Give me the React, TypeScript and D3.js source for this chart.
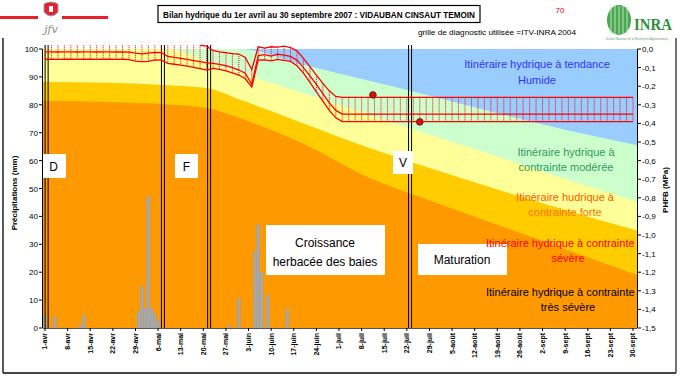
import React from "react";
import * as d3 from "d3";

// ---------- DATA ----------
const tickDays = [0, 7, 14, 21, 28, 35, 42, 49, 56, 63, 70, 77, 84, 91, 98, 105, 112, 119, 126, 133, 140, 147, 154, 161, 168, 175, 182];
const tickLabels = ["1-avr", "8-avr", "15-avr", "22-avr", "29-avr", "6-mai", "13-mai", "20-mai", "27-mai", "3-juin", "10-juin", "17-juin", "24-juin", "1-juil", "8-juil", "15-juil", "22-juil", "29-juil", "5-août", "12-août", "19-août", "26-août", "2-sept", "9-sept", "16-sept", "23-sept", "30-sept"];
const mmTicks = [0, 10, 20, 30, 40, 50, 60, 70, 80, 90, 100];
const psiTicks = [0, -0.1, -0.2, -0.3, -0.4, -0.5, -0.6, -0.7, -0.8, -0.9, -1.0, -1.1, -1.2, -1.3, -1.4, -1.5];

// background threshold curves (MPa) by day index since 1 April
const bandDays = [-1, 20, 38, 50, 60, 80, 100, 120, 140, 160, 184];
const boundHumide = [0, 0, 0, 0, 0, -0.085, -0.17, -0.255, -0.345, -0.43, -0.52];
const boundModeree = [0, 0, 0, -0.068, -0.125, -0.238, -0.352, -0.465, -0.578, -0.692, -0.825];
const boundForte = [-0.177, -0.182, -0.195, -0.21, -0.27, -0.4, -0.53, -0.645, -0.755, -0.86, -0.98];
const boundSevere = [-0.28, -0.285, -0.298, -0.317, -0.37, -0.51, -0.69, -0.82, -0.945, -1.07, -1.22];
const bandColors = ["#FF9900", "#FFCC00", "#FFFF99", "#CCFFCC", "#99CCFF"];

// precipitation (mm)
const precipDays = [0, 3, 11, 12, 29, 30, 31, 32, 33, 34, 35, 57, 60, 65, 66, 67, 69, 75];
const precipMm = [4.6, 4, 0.8, 4.6, 6, 14.8, 7, 47, 7, 5, 2.6, 1, 10.7, 27.5, 37, 20, 12, 6.8];

// simulated water potential envelope (MPa)
const hydroDays = [0, 2, 4, 6, 8, 10, 12, 14, 16, 18, 20, 22, 24, 26, 28, 30, 32, 34, 36, 38, 40, 42, 44, 46, 48, 50, 52, 54, 56, 58, 60, 62, 64, 66, 68, 70, 72, 74, 76, 78, 80, 82, 84, 86, 88, 90, 92,
  94, 96, 98, 100, 102, 104, 106, 108, 110, 112, 114, 116, 118, 120, 122, 124, 126, 128, 130, 132, 134, 136, 138, 140, 142, 144, 146, 148, 150, 152, 154, 156, 158, 160, 162, 164, 166, 168, 170, 172, 174, 176, 178, 180, 182];
const psiHigh = [0.02, 0.02, 0.02, 0.02, 0.02, 0.02, 0.02, 0.02, 0.02, 0.02, 0.02, 0.02, 0.02, 0.02, 0.02, 0.02, 0.02, 0.02, 0.02, 0.02, 0.02, 0.02, 0.02, 0.02,
  0.02, 0.015,
  -0.008, -0.015, -0.02, -0.025, -0.027, -0.045, -0.11,
  0.012, 0.005, 0.012, 0.01, 0.015, 0.008, -0.01,
  -0.05, -0.095, -0.14, -0.185, -0.225, -0.255, -0.26,
  -0.26, -0.26, -0.26, -0.26, -0.26, -0.26, -0.26, -0.26, -0.26, -0.26, -0.26, -0.26, -0.26, -0.26, -0.26, -0.26, -0.26, -0.26, -0.26, -0.26, -0.26, -0.26, -0.26, -0.26, -0.26, -0.26, -0.26,
  -0.26, -0.26, -0.26, -0.26, -0.26, -0.26, -0.26, -0.26, -0.26, -0.26, -0.26, -0.26, -0.26, -0.26, -0.26, -0.26, -0.26, -0.26, -0.26, -0.26, -0.26, -0.26];
const psiMid = [-0.015, -0.015, -0.016, -0.015, -0.015, -0.016, -0.015, -0.015, -0.016, -0.015, -0.015, -0.016, -0.015,
  -0.017, -0.022, -0.026, -0.022, -0.018, -0.02,
  -0.04, -0.045, -0.05, -0.056, -0.062, -0.068, -0.075,
  -0.077, -0.083, -0.09, -0.1, -0.113, -0.13, -0.19,
  -0.035, -0.03, -0.038, -0.028, -0.033, -0.04, -0.06,
  -0.1, -0.145, -0.19, -0.24, -0.29, -0.33, -0.35,
  -0.35, -0.35, -0.35, -0.35, -0.35, -0.35, -0.35, -0.35, -0.35, -0.35, -0.35, -0.35, -0.35, -0.35, -0.35, -0.35, -0.35, -0.35, -0.35, -0.35, -0.35, -0.35, -0.35,
  -0.35, -0.35, -0.35, -0.35, -0.35, -0.35, -0.35, -0.35, -0.35, -0.35, -0.35, -0.35, -0.35, -0.35, -0.35, -0.35, -0.35, -0.35, -0.35, -0.35, -0.35, -0.35];
const psiLow = [-0.055, -0.055, -0.056, -0.055, -0.055, -0.056, -0.055, -0.055, -0.056, -0.055, -0.055, -0.056, -0.055,
  -0.057, -0.065, -0.068, -0.066, -0.058, -0.06,
  -0.077, -0.082, -0.087, -0.092, -0.099, -0.106, -0.113,
  -0.104, -0.11, -0.118, -0.128, -0.14, -0.16, -0.205,
  -0.06, -0.058, -0.064, -0.056, -0.061, -0.067, -0.09,
  -0.13, -0.18, -0.23, -0.28, -0.33, -0.37, -0.39,
  -0.39, -0.39, -0.39, -0.39, -0.39, -0.39, -0.39, -0.39, -0.39, -0.39, -0.39, -0.39, -0.39, -0.39, -0.39, -0.39, -0.39, -0.39, -0.39, -0.39, -0.39, -0.39, -0.39,
  -0.39, -0.39, -0.39, -0.39, -0.39, -0.39, -0.39, -0.39, -0.39, -0.39, -0.39, -0.39, -0.39, -0.39, -0.39, -0.39, -0.39, -0.39, -0.39, -0.39, -0.39, -0.39];
const highLineFromDay = 48;

// measured points
const dotDays = [101.5, 116];
const dotPsi = [-0.247, -0.392];

// phenological stages
const phenoDays = [0.5, 36.5, 50.8, 113];

const stageLabels = ["D", "F", "V"];
const title = "Bilan hydrique du 1er avril au 30 septembre 2007 : VIDAUBAN CINSAUT TEMOIN";
const subtitle = "grille de diagnostic utilisée =ITV-INRA 2004";

export default function App() {
  const L = 43, R = 637, T = 49, B = 328;
  const x = d3.scaleLinear().domain([0, 182]).range([45, 633]);
  const yMm = d3.scaleLinear().domain([0, 100]).range([B, T]);
  const yPsi = d3.scaleLinear().domain([0, -1.5]).range([T, B]);
  const font = "'Liberation Sans', Arial, sans-serif";
  const barW = x(1) - x(0);

  const bandPath = (bound: number[]) =>
    d3.area<number>()
      .x((d) => x(d))
      .y0(T)
      .y1((_, i) => yPsi(bound[i]))
      .curve(d3.curveMonotoneX)(bandDays) || "";

  const linePath = (vals: number[], from = -Infinity) =>
    d3.line<number>()
      .defined((d) => d >= from)
      .x((d) => x(d))
      .y((_, i) => yPsi(vals[i]))(hydroDays) || "";

  const fmtPsi = (v: number) => (v === 0 ? "0,0" : d3.format(".1f")(v).replace(".", ",").replace("−", "-"));

  const boxes = [
    { label: stageLabels[0], x: 41, y: 154, w: 25, h: 24 },
    { label: stageLabels[1], x: 175, y: 154, w: 23, h: 24 },
    { label: stageLabels[2], x: 393, y: 151, w: 20, h: 23 },
  ];

  return (
    <div style={{ position: "absolute", left: 0, top: 0, width: 680, height: 380, background: "#fff" }}>
      <svg width={680} height={380} style={{ display: "block" }} fontFamily={font}>
        <defs>
          <clipPath id="plotClip">
            <rect x={L} y={T} width={R - L} height={B - T} />
          </clipPath>
        </defs>

        {/* header */}
        <rect x={0} y={16} width={38} height={3} fill="#e8202a" />
        <rect x={62} y={16} width={46} height={3} fill="#e8202a" />
        <path d="M44,4 Q51,0 58,4 L58,12 Q51,20 44,12 Z" fill="#e8202a" stroke="#8aa0c8" strokeWidth={1} />
        <rect x={49} y={6} width={4} height={6} fill="#fff" />
        <text x={51} y={33} fontSize={11} fontStyle="italic" fill="#888" textAnchor="middle" fontFamily="'DejaVu Serif', serif">jfv</text>
        <line x1={3} y1={38} x2={3} y2={373} stroke="#222" strokeWidth={1.5} />
        <line x1={3} y1={373} x2={676} y2={373} stroke="#444" strokeWidth={2} />
        <line x1={676} y1={38} x2={676} y2={373} stroke="#444" strokeWidth={1.5} />

        <rect x={158} y={5.5} width={322} height={17} fill="#fff" stroke="#000" strokeWidth={1.2} />
        <text x={163} y={17.5} fontSize={9} fontWeight="bold" textLength={312} lengthAdjust="spacingAndGlyphs" fill="#000">{title}</text>
        <text x={560} y={13} fontSize={8} fill="#e00" textAnchor="middle">70</text>
        <text x={418} y={35} fontSize={8} textLength={158} lengthAdjust="spacingAndGlyphs" fill="#000">{subtitle}</text>

        {/* INRA logo */}
        <ellipse cx={619} cy={20} rx={12} ry={15} fill="#4aa64f" />
        {[-8, -4, 0, 4, 8].map((o) => (
          <line key={o} x1={619 + o} y1={6} x2={619 + o} y2={34} stroke="#bfe3bf" strokeWidth={1} />
        ))}
        <text x={634} y={30} fontSize={17} fontWeight="bold" fill="#2f8f3c" fontFamily="'Liberation Serif', 'DejaVu Serif', serif" textLength={38} lengthAdjust="spacingAndGlyphs">INRA</text>
        <text x={606} y={40} fontSize={3} fill="#5aa85a">Institut National de la Recherche Agronomique</text>

        {/* background bands */}
        <g clipPath="url(#plotClip)">
          <rect x={L} y={T} width={R - L} height={B - T} fill={bandColors[0]} />
          <path d={bandPath(boundSevere)} fill={bandColors[1]} />
          <path d={bandPath(boundForte)} fill={bandColors[2]} />
          <path d={bandPath(boundModeree)} fill={bandColors[3]} />
          <path d={bandPath(boundHumide)} fill={bandColors[4]} />
        </g>

        {/* precipitation bars */}
        {precipDays.map((d, i) => (
          <rect key={"p" + i} x={x(d) - barW / 2} y={yMm(precipMm[i])} width={barW} height={B - yMm(precipMm[i])} fill="#a8a8a8" stroke="#9a9a9a" strokeWidth={0.3} />
        ))}

        {/* phenological stage lines */}
        {phenoDays.map((d, i) => (
          <g key={"ph" + i}>
            <line x1={x(d) - 1.5} x2={x(d) - 1.5} y1={45} y2={B} stroke="#000" strokeWidth={1} />
            <line x1={x(d) + 1.5} x2={x(d) + 1.5} y1={45} y2={B} stroke="#000" strokeWidth={1} />
          </g>
        ))}

        {/* high-low dotted lines */}
        {hydroDays.map((d, i) => {
          const hi = Math.max(psiHigh[i], psiMid[i], psiLow[i]);
          const lo = Math.min(psiHigh[i], psiMid[i], psiLow[i]);
          return (
            <line key={"hl" + i} x1={x(d)} x2={x(d)} y1={yPsi(hi)} y2={yPsi(lo)} stroke="#ff0000" strokeWidth={1} strokeDasharray="1 1" />
          );
        })}
        <path d={linePath(psiHigh, highLineFromDay)} fill="none" stroke="#ff0000" strokeWidth={1.3} />
        <path d={linePath(psiMid)} fill="none" stroke="#ff0000" strokeWidth={1.3} />
        <path d={linePath(psiLow)} fill="none" stroke="#ff0000" strokeWidth={1.3} />

        {dotDays.map((d, i) => (
          <circle key={"dot" + i} cx={x(d)} cy={yPsi(dotPsi[i])} r={3.3} fill="#ff0000" stroke="#333" strokeWidth={1} />
        ))}

        {/* stage boxes */}
        {boxes.map((b) => (
          <g key={b.label}>
            <rect x={b.x} y={b.y} width={b.w} height={b.h} fill="#fff" />
            <text x={b.x + b.w / 2} y={b.y + b.h / 2 + 4.5} fontSize={12} textAnchor="middle" fill="#000">{b.label}</text>
          </g>
        ))}
        <rect x={266} y={225} width={119} height={50} fill="#fff" />
        <text x={325} y={247} fontSize={12} textAnchor="middle">Croissance</text>
        <text x={325} y={266} fontSize={12} textAnchor="middle">herbacée des baies</text>
        <rect x={418} y={244} width={89} height={31} fill="#fff" />
        <text x={462} y={264} fontSize={12} textAnchor="middle">Maturation</text>

        {/* left axis */}
        <line x1={42.5} x2={42.5} y1={T} y2={B} stroke="#000" />
        {mmTicks.map((t) => (
          <g key={"mm" + t}>
            <line x1={39} x2={42.5} y1={yMm(t)} y2={yMm(t)} stroke="#000" />
            <text x={38} y={yMm(t) + 3} fontSize={8} textAnchor="end">{t}</text>
          </g>
        ))}
        <text transform="translate(17,193) rotate(-90)" fontSize={8} fontWeight="bold" textAnchor="middle">Précipitations (mm)</text>

        {/* right axis */}
        <line x1={637.5} x2={637.5} y1={T} y2={B} stroke="#000" />
        {psiTicks.map((t, i) => (
          <g key={"psi" + i}>
            <line x1={637.5} x2={641} y1={yPsi(t)} y2={yPsi(t)} stroke="#000" />
            <text x={642} y={yPsi(t) + 3} fontSize={8}>{fmtPsi(t)}</text>
          </g>
        ))}
        <text transform="translate(668,190) rotate(-90)" fontSize={8} fontWeight="bold" textAnchor="middle">PHFB (MPa)</text>

        {/* x axis */}
        <line x1={L} x2={R} y1={B + 0.5} y2={B + 0.5} stroke="#555" />
        {tickDays.map((d, i) => (
          <g key={"xt" + i}>
            <line x1={x(d)} x2={x(d)} y1={B} y2={B + 3} stroke="#000" />
            <text transform={`translate(${x(d)},333) rotate(-90)`} dy="0.35em" fontSize={7} fontWeight="bold" textAnchor="end">{tickLabels[i]}</text>
          </g>
        ))}

        {/* zone labels */}
        <g fontSize={11}>
          <text x={537} y={68} textAnchor="middle" fill="#3333ff">Itinéraire hydrique à tendance</text>
          <text x={537} y={84} textAnchor="middle" fill="#3333ff">Humide</text>
          <text x={566} y={156} textAnchor="middle" fill="#339966">Itinéraire  hydrique à</text>
          <text x={566} y={171} textAnchor="middle" fill="#339966">contrainte modérée</text>
          <text x={565} y={201} textAnchor="middle" fill="#ff5a00">Itinéraire hudrique à</text>
          <text x={565} y={216} textAnchor="middle" fill="#ff7400">contrainte forte</text>
          <text x={486} y={247} fill="#ff0000">Itinéraire hydrique à contrainte</text>
          <text x={568} y={262} textAnchor="middle" fill="#ff0000">sévère</text>
          <text x={486} y={296} fill="#000">Itinéraire hydrique à contrainte</text>
          <text x={568} y={311} textAnchor="middle" fill="#000">très sévère</text>
        </g>
      </svg>
    </div>
  );
}
